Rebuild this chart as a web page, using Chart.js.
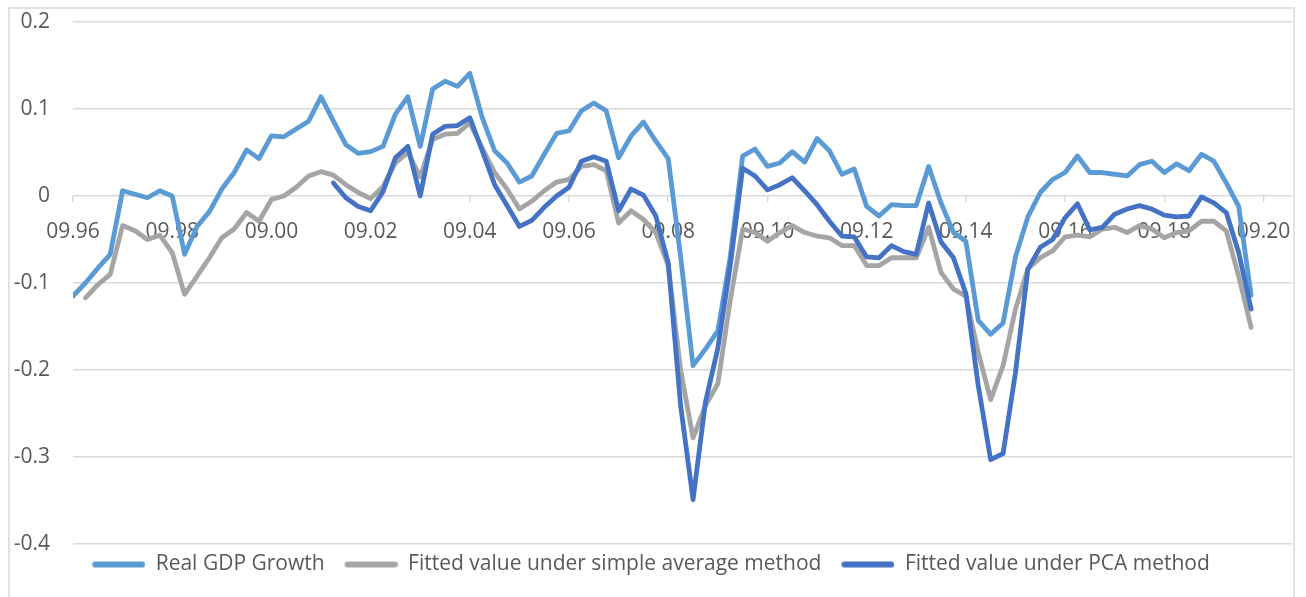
<!DOCTYPE html>
<html><head><meta charset="utf-8">
<script src="https://cdn.jsdelivr.net/npm/chart.js@4/dist/chart.umd.min.js"></script>
<style>html,body{margin:0;padding:0;background:#fff;overflow:hidden}canvas{display:block}</style>
</head><body>
<canvas id="c" width="1306" height="597"></canvas>
<script>
const categories = [
'09.96','12.96','03.97','06.97','09.97','12.97','03.98','06.98',
'09.98','12.98','03.99','06.99','09.99','12.99','03.00','06.00',
'09.00','12.00','03.01','06.01','09.01','12.01','03.02','06.02',
'09.02','12.02','03.03','06.03','09.03','12.03','03.04','06.04',
'09.04','12.04','03.05','06.05','09.05','12.05','03.06','06.06',
'09.06','12.06','03.07','06.07','09.07','12.07','03.08','06.08',
'09.08','12.08','03.09','06.09','09.09','12.09','03.10','06.10',
'09.10','12.10','03.11','06.11','09.11','12.11','03.12','06.12',
'09.12','12.12','03.13','06.13','09.13','12.13','03.14','06.14',
'09.14','12.14','03.15','06.15','09.15','12.15','03.16','06.16',
'09.16','12.16','03.17','06.17','09.17','12.17','03.18','06.18',
'09.18','12.18','03.19','06.19','09.19','12.19','03.20','06.20',
'09.20','12.20','03.21'];

const tickLabels = ['09.96','09.98','09.00','09.02','09.04','09.06','09.08','09.10','09.12','09.14','09.16','09.18','09.20'];
const yTicks = [0.2, 0.1, 0, -0.1, -0.2, -0.3, -0.4];

const realGDP = [
-0.115,-0.100,-0.083,-0.067,0.006,0.002,-0.002,0.006,
0.000,-0.067,-0.035,-0.018,0.008,0.027,0.053,0.043,
0.069,0.068,0.077,0.086,0.114,0.086,0.059,0.049,
0.051,0.057,0.094,0.114,0.057,0.123,0.132,0.126,
0.141,0.090,0.052,0.038,0.016,0.023,0.048,0.072,
0.075,0.098,0.107,0.098,0.044,0.069,0.085,0.063,
0.043,-0.070,-0.195,-0.176,-0.155,-0.070,0.046,0.054,
0.034,0.038,0.051,0.039,0.066,0.052,0.025,0.031,
-0.012,-0.023,-0.010,-0.011,-0.011,0.034,-0.008,-0.042,
-0.052,-0.143,-0.159,-0.146,-0.070,-0.024,0.004,0.019,
0.027,0.046,0.027,0.027,0.025,0.023,0.036,0.040,
0.027,0.037,0.029,0.048,0.040,0.015,-0.012,-0.114];

const simpleAvg = [
null,-0.117,-0.102,-0.090,-0.034,-0.040,-0.050,-0.045,
-0.065,-0.113,-0.092,-0.071,-0.048,-0.038,-0.019,-0.029,
-0.004,0.000,0.010,0.023,0.028,0.024,0.013,0.004,
-0.003,0.011,0.038,0.050,0.022,0.065,0.071,0.072,
0.084,0.055,0.027,0.008,-0.015,-0.006,0.006,0.016,
0.019,0.034,0.036,0.029,-0.031,-0.017,-0.027,-0.042,
-0.080,-0.200,-0.278,-0.241,-0.216,-0.120,-0.038,-0.042,
-0.052,-0.042,-0.034,-0.042,-0.046,-0.048,-0.057,-0.057,
-0.080,-0.080,-0.071,-0.071,-0.071,-0.036,-0.088,-0.107,
-0.115,-0.180,-0.234,-0.195,-0.130,-0.084,-0.071,-0.063,
-0.047,-0.045,-0.047,-0.038,-0.036,-0.042,-0.034,-0.038,
-0.048,-0.042,-0.040,-0.029,-0.029,-0.040,-0.092,-0.151];

const pcaFit = [
null,null,null,null,null,null,null,null,
null,null,null,null,null,null,null,null,
null,null,null,null,null,0.015,-0.002,-0.012,
-0.017,0.005,0.044,0.057,0.000,0.071,0.080,0.081,
0.090,0.052,0.013,-0.011,-0.035,-0.028,-0.013,0.000,
0.010,0.040,0.045,0.040,-0.017,0.008,0.001,-0.023,
-0.077,-0.241,-0.349,-0.237,-0.175,-0.080,0.032,0.023,
0.007,0.013,0.021,0.006,-0.010,-0.029,-0.046,-0.047,
-0.070,-0.071,-0.057,-0.064,-0.067,-0.008,-0.053,-0.071,
-0.112,-0.218,-0.303,-0.296,-0.203,-0.084,-0.059,-0.050,
-0.025,-0.009,-0.039,-0.036,-0.021,-0.015,-0.011,-0.015,
-0.022,-0.024,-0.023,-0.001,-0.008,-0.019,-0.065,-0.130];

const seriesNames = ['Real GDP Growth', 'Fitted value under simple average method', 'Fitted value under PCA method'];
const seriesColors = ['#5B9BD5', '#A5A5A5', '#4472C4'];

function toPoints(arr) {
  const out = [];
  arr.forEach((v, i) => { if (v !== null) out.push({x: i, y: v}); });
  return out;
}

// legend swatch: a short thick line, right-aligned inside a slightly wider box
function legendSwatch(color) {
  const w = 63, h = 10, lw = 6;
  const cv = document.createElement('canvas');
  cv.width = w; cv.height = h;
  const c = cv.getContext('2d');
  c.strokeStyle = color;
  c.lineWidth = lw;
  c.lineCap = 'round';
  c.beginPath();
  c.moveTo(10 + lw / 2, h / 2);
  c.lineTo(w - lw / 2, h / 2);
  c.stroke();
  return cv;
}

const TEXT = '#595959';
const GRID = '#d9d9d9';
Chart.defaults.font.family = "'Open Sans', sans-serif";
Chart.defaults.font.size = 21;
Chart.defaults.color = TEXT;

const framePlugin = {
  id: 'frame',
  beforeDraw(chart) {
    const c = chart.ctx;
    c.save();
    c.fillStyle = '#ffffff';
    c.fillRect(0, 0, chart.width, chart.height);
    c.strokeStyle = GRID;
    c.lineWidth = 1.5;
    c.strokeRect(9, 8, 1285, 620);
    c.restore();
  }
};

const allSeries = [realGDP, simpleAvg, pcaFit];
const datasets = allSeries.map((arr, k) => ({
  label: seriesNames[k],
  data: toPoints(arr),
  borderColor: seriesColors[k],
  backgroundColor: seriesColors[k],
  borderWidth: 4.8,
  pointRadius: 0,
  pointHoverRadius: 0,
  pointStyle: legendSwatch(seriesColors[k]),
  tension: 0,
  borderJoinStyle: 'round',
  borderCapStyle: 'round',
  fill: false,
  order: 3 - k
}));

new Chart(document.getElementById('c'), {
  type: 'line',
  data: { datasets },
  plugins: [framePlugin],
  options: {
    responsive: false,
    animation: false,
    devicePixelRatio: 1,
    layout: { padding: { top: 22, right: 14, bottom: 12, left: 0 } },
    plugins: {
      tooltip: { enabled: false },
      legend: {
        position: 'bottom',
        labels: {
          usePointStyle: true,
          pointStyleWidth: 63,
          padding: 10,
          color: TEXT,
          font: { size: 21 },
          sort: (a, b) => a.datasetIndex - b.datasetIndex
        }
      }
    },
    scales: {
      x: {
        type: 'linear',
        position: { y: 0 },
        min: 0,
        max: categories.length - 0.7,
        afterBuildTicks: (scale) => {
          scale.ticks = tickLabels.map(l => ({ value: categories.indexOf(l) }));
        },
        ticks: {
          autoSkip: false,
          maxRotation: 0,
          padding: 6,
          color: TEXT,
          font: { size: 21, lineHeight: 2.31 },
          callback: (v) => categories[v]
        },
        grid: { drawOnChartArea: false, drawTicks: true, tickLength: 6, color: GRID, lineWidth: 1.5 },
        border: { display: false }
      },
      y: {
        type: 'linear',
        min: -0.4,
        max: 0.2,
        afterBuildTicks: (scale) => { scale.ticks = yTicks.map(v => ({ value: v })); },
        afterFit: (scale) => { scale.width = 73; },
        ticks: {
          padding: 0,
          color: TEXT,
          callback: (v) => String(Math.round(v * 10) / 10)
        },
        grid: { color: GRID, lineWidth: 1.5, drawTicks: true, tickLength: 23, tickColor: 'rgba(0,0,0,0)' },
        border: { display: false }
      }
    }
  }
});
</script>
</body></html>
